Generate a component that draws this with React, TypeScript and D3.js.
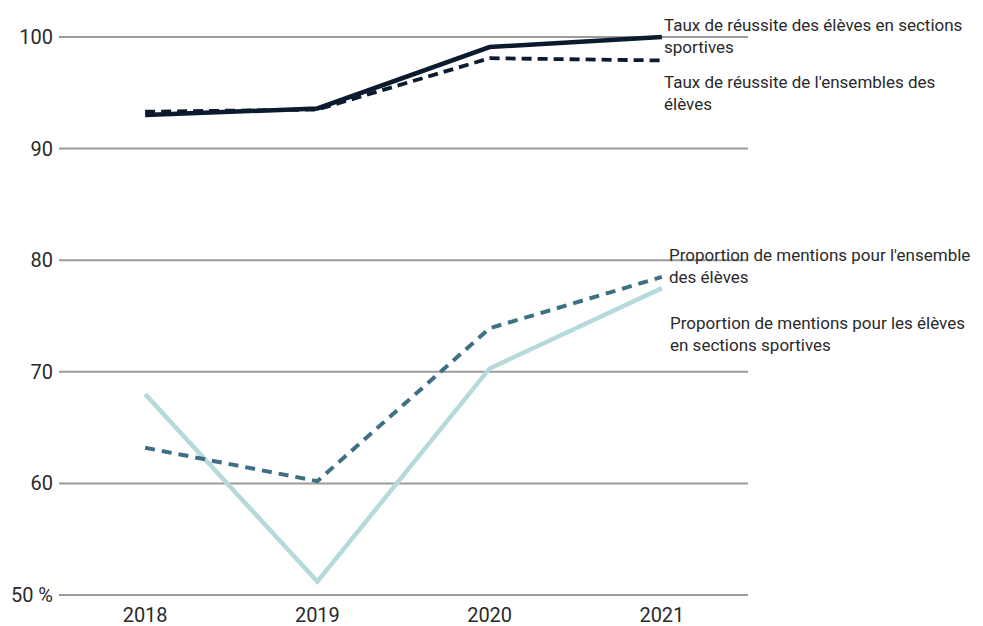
import React from "react";
import * as d3 from "d3";

const years = ["2018", "2019", "2020", "2021"];
const successSports = [93.0, 93.6, 99.1, 100.0];
const successAll = [93.3, 93.5, 98.1, 97.9];
const mentionsAll = [63.2, 60.2, 73.9, 78.5];
const mentionsSports = [68.0, 51.2, 70.3, 77.5];
const yTicks = [50, 60, 70, 80, 90, 100];

const W = 983;
const H = 626;
const left = 59;
const right = 748;
const top = 37;
const bottom = 595;

const font = "Roboto, 'Liberation Sans', sans-serif";

export default function App() {
  const x = d3.scaleBand<string>().domain(years).range([left, right]);
  const y = d3.scaleLinear().domain([50, 100]).range([bottom, top]);
  const cx = (d: string) => (x(d) as number) + x.bandwidth() / 2;

  const line = (vals: number[]) =>
    d3
      .line<number>()
      .x((_, i) => cx(years[i]))
      .y((v) => y(v))(vals) as string;

  const series = [
    { vals: mentionsSports, color: "#b5dadc", width: 4.5, dash: "" },
    { vals: mentionsAll, color: "#3f6f85", width: 4, dash: "10,7" },
    { vals: successAll, color: "#0b1a2c", width: 3.8, dash: "10,6" },
    { vals: successSports, color: "#0b1a2c", width: 4.5, dash: "" },
  ];

  const labels = [
    { x: 664, y: 31, lines: ["Taux de réussite des élèves en sections", "sportives"] },
    { x: 664, y: 88, lines: ["Taux de réussite de l'ensembles des", "élèves"] },
    { x: 669, y: 261, lines: ["Proportion de mentions pour l'ensemble", "des élèves"] },
    { x: 670, y: 329, lines: ["Proportion de mentions pour les élèves", "en sections sportives"] },
  ];

  return (
    <svg
      width={W}
      height={H}
      style={{ position: "absolute", left: 0, top: 0, background: "#fff" }}
    >
      {yTicks.map((t) => (
        <g key={t}>
          <line x1={left} x2={right} y1={y(t)} y2={y(t)} stroke="#9b9b9b" strokeWidth={2} />
          <text
            x={53}
            y={y(t)}
            dy="0.35em"
            textAnchor="end"
            fontFamily={font}
            fontSize={20}
            fill="#2a2a2a"
          >
            {t === 50 ? "50 %" : t}
          </text>
        </g>
      ))}
      {years.map((yr) => (
        <text
          key={yr}
          x={cx(yr)}
          y={622}
          textAnchor="middle"
          fontFamily={font}
          fontSize={20}
          fill="#2a2a2a"
        >
          {yr}
        </text>
      ))}
      {series.map((s, i) => (
        <path
          key={i}
          d={line(s.vals)}
          fill="none"
          stroke={s.color}
          strokeWidth={s.width}
          strokeDasharray={s.dash || undefined}
        />
      ))}
      {labels.map((l, i) => (
        <text key={i} x={l.x} y={l.y} fontFamily={font} fontSize={17} fill="#2a2a2a">
          {l.lines.map((ln, j) => (
            <tspan key={j} x={l.x} dy={j === 0 ? 0 : 22}>
              {ln}
            </tspan>
          ))}
        </text>
      ))}
    </svg>
  );
}
